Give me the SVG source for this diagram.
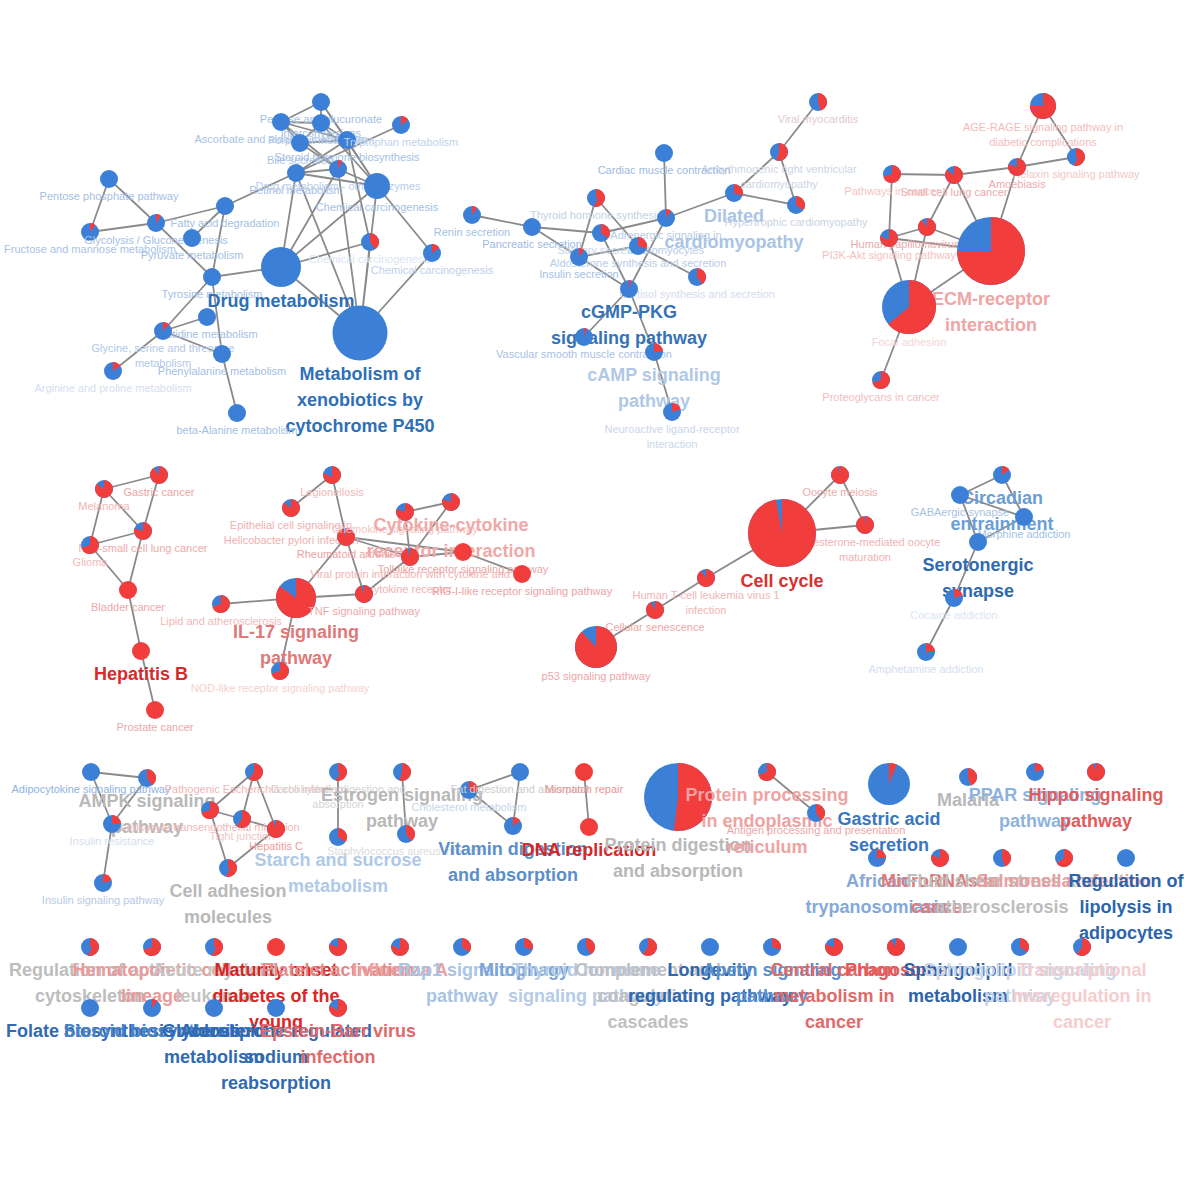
<svg xmlns="http://www.w3.org/2000/svg" width="1184" height="1184" viewBox="0 0 1184 1184">
<style>
.e{stroke:#8a8a8a;stroke-width:1.8;fill:none}
.b{fill:#3b80d6}
.rf{fill:#f23d3d}
.r{fill:none;stroke:#f23d3d}
.s{font-family:"Liberation Sans",Arial,sans-serif;font-size:11px;text-anchor:middle}
.L{font-family:"Liberation Sans",Arial,sans-serif;font-size:18px;font-weight:bold;text-anchor:middle}
</style>
<rect width="1184" height="1184" fill="#ffffff"/>
<g id="edges" class="e">
<path d="M321 102L281 122M321 102L321 123M321 102L347 140M321 102L377 186M281 122L321 123M281 122L347 140M281 122L300 143M281 122L338 169M321 123L347 140M321 123L300 143M321 123L377 186M300 143L347 140M300 143L338 169M347 140L296 173M347 140L377 186M296 173L338 169M296 173L377 186M338 169L377 186M401 125L296 173M296 173L225 206M296 173L281 267M296 173L360 333M338 169L281 267M338 169L360 333M377 186L281 267M377 186L360 333M347 140L370 242M370 242L360 333M370 242L281 267M281 267L360 333M281 267L212 277M432 253L377 186M432 253L360 333M109 179L90 232M109 179L156 223M90 232L156 223M156 223L225 206M225 206L192 238M225 206L212 277M156 223L212 277M212 277L163 331M212 277L222 354M163 331L207 317M163 331L222 354M163 331L113 371M222 354L237 413"/>
<path d="M818 102L779 152M779 152L734 193M779 152L796 205M734 193L796 205M734 193L666 218M664 153L666 218M472 215L532 227M532 227L601 233M532 227L579 257M596 198L579 257M596 198L638 246M601 233L666 218M579 257L638 246M579 257L629 289M601 233L629 289M666 218L629 289M638 246L697 277M629 289L584 337M629 289L654 352M654 352L672 412"/>
<path d="M1043 106L1017 167M1043 106L1076 157M1017 167L1076 157M954 175L1017 167M892 174L954 175M892 174L889 238M954 175L927 227M954 175L991 251M1017 167L991 251M889 238L927 227M927 227L991 251M889 238L991 251M889 238L909 307M927 227L909 307M909 307L991 251M909 307L881 380"/>
<path d="M104 489L159 475M104 489L143 531M104 489L90 545M90 545L143 531M159 475L143 531M143 531L128 590M90 545L128 590M128 590L141 651M141 651L155 710"/>
<path d="M332 475L291 508M332 475L346 537M346 537L410 557M346 537L463 552M405 512L451 502M405 512L410 557M451 502L410 557M410 557L463 552M463 552L522 574M364 594L410 557M346 537L296 598M346 537L364 594M296 598L221 604M296 598L364 594M296 598L280 671"/>
<path d="M840 475L782 533M840 475L865 525M782 533L865 525M782 533L706 578M706 578L655 610M655 610L596 647"/>
<path d="M960 495L1002 475M1002 475L1024 517M960 495L1024 517M1024 517L978 542M960 495L978 542M978 542L954 598M954 598L926 652"/>
<path d="M91 772L147 778M91 772L112 824M147 778L112 824M112 824L103 883M254 772L210 810M254 772L242 819M254 772L276 829M210 810L242 819M242 819L276 829M210 810L228 868M228 868L276 829M338 772L338 837M402 772L406 834M469 790L520 772M469 790L513 826M520 772L513 826M584 772L589 827M767 772L816 813"/>
</g>
<g id="nodes">
<!-- top-left cluster -->
<g id="n-pentose-glucuronate" transform="translate(321 102)"><text class="s" y="21" fill="#a3c0e5">Pentose and glucuronate<tspan x="0" dy="14">interconversions</tspan></text><circle class="b" r="9"/></g>
<g id="n-ascorbate" transform="translate(281 122)"><text class="s" y="21" fill="#a8c3e6">Ascorbate and aldarate metabolism</text><circle class="b" r="9"/></g>
<g id="n-porphyrin" transform="translate(321 123)"><text class="s" y="21" fill="#b0c8e8">Porphyrin metabolism</text><circle class="b" r="9"/></g>
<g id="n-bile" transform="translate(300 143)"><text class="s" y="21" fill="#a8c3e6">Bile secretion</text><circle class="b" r="9"/></g>
<g id="n-steroid-hormone" transform="translate(347 140)"><text class="s" y="21" fill="#a3c0e5">Steroid hormone biosynthesis</text><circle class="b" r="9"/></g>
<g id="n-retinol" transform="translate(296 173)"><text class="s" y="21" fill="#a3c0e5">Retinol metabolism</text><circle class="b" r="9"/></g>
<g id="n-drug-other" transform="translate(338 169)"><text class="s" y="21" fill="#b8cdea">Drug metabolism - other enzymes</text><circle class="b" r="9"/><circle class="r" r="4.5" stroke-width="9" pathLength="100" stroke-dasharray="8 100" transform="rotate(-90)"/></g>
<g id="n-chem-carc-1" transform="translate(377 186)"><text class="s" y="25" fill="#a3c0e5">Chemical carcinogenesis</text><circle class="b" r="13"/></g>
<g id="n-tryptophan" transform="translate(401 125)"><text class="s" y="21" fill="#c0d3ec">Tryptophan metabolism</text><circle class="b" r="9"/><circle class="r" r="4.5" stroke-width="9" pathLength="100" stroke-dasharray="15 100" transform="rotate(-90)"/></g>
<g id="n-chem-carc-2" transform="translate(370 242)"><text class="s" y="21" fill="#dbe5f2">Chemical carcinogenesis</text><circle class="b" r="9"/><circle class="r" r="4.5" stroke-width="9" pathLength="100" stroke-dasharray="40 100" transform="rotate(-90)"/></g>
<g id="n-chem-carc-3" transform="translate(432 253)"><text class="s" y="21" fill="#bcd0ea">Chemical carcinogenesis</text><circle class="b" r="9"/><circle class="r" r="4.5" stroke-width="9" pathLength="100" stroke-dasharray="15 100" transform="rotate(-90)"/></g>
<g id="n-pentose-phosphate" transform="translate(109 179)"><text class="s" y="21" fill="#a3c0e5">Pentose phosphate pathway</text><circle class="b" r="9"/></g>
<g id="n-fructose" transform="translate(90 232)"><text class="s" y="21" fill="#a8c3e6">Fructose and mannose metabolism</text><circle class="b" r="9"/><circle class="r" r="4.5" stroke-width="9" pathLength="100" stroke-dasharray="10 100" transform="rotate(-90)"/></g>
<g id="n-glycolysis" transform="translate(156 223)"><text class="s" y="21" fill="#a3c0e5">Glycolysis / Gluconeogenesis</text><circle class="b" r="9"/><circle class="r" r="4.5" stroke-width="9" pathLength="100" stroke-dasharray="10 100" transform="rotate(-90)"/></g>
<g id="n-fatty-acid" transform="translate(225 206)"><text class="s" y="21" fill="#a3c0e5">Fatty acid degradation</text><circle class="b" r="9"/></g>
<g id="n-pyruvate" transform="translate(192 238)"><text class="s" y="21" fill="#a3c0e5">Pyruvate metabolism</text><circle class="b" r="9"/></g>
<g id="n-tyrosine" transform="translate(212 277)"><text class="s" y="21" fill="#a3c0e5">Tyrosine metabolism</text><circle class="b" r="9"/></g>
<g id="n-drug-metabolism" transform="translate(281 267)"><text class="L" y="39.5" fill="#2f6fb8">Drug metabolism</text><circle class="b" r="20"/></g>
<g id="n-xenobiotics" transform="translate(360 333)"><text class="L" y="47" fill="#2f6fb8">Metabolism of<tspan x="0" dy="26">xenobiotics by</tspan><tspan x="0" dy="26">cytochrome P450</tspan></text><circle class="b" r="27.5"/></g>
<g id="n-histidine" transform="translate(207 317)"><text class="s" y="21" fill="#a3c0e5">Histidine metabolism</text><circle class="b" r="9"/></g>
<g id="n-glycine" transform="translate(163 331)"><text class="s" y="21" fill="#b0c8e8">Glycine, serine and threonine<tspan x="0" dy="15">metabolism</tspan></text><circle class="b" r="9"/><circle class="r" r="4.5" stroke-width="9" pathLength="100" stroke-dasharray="12 100" transform="rotate(-90)"/></g>
<g id="n-phenylalanine" transform="translate(222 354)"><text class="s" y="21" fill="#a3c0e5">Phenylalanine metabolism</text><circle class="b" r="9"/></g>
<g id="n-arginine" transform="translate(113 371)"><text class="s" y="21" fill="#d3e0f1">Arginine and proline metabolism</text><circle class="b" r="9"/><circle class="r" r="4.5" stroke-width="9" pathLength="100" stroke-dasharray="15 100" transform="rotate(-90)"/></g>
<g id="n-beta-alanine" transform="translate(237 413)"><text class="s" y="21" fill="#a3c0e5">beta-Alanine metabolism</text><circle class="b" r="9"/></g>
<!-- top-middle cluster -->
<g id="n-viral-myocarditis" transform="translate(818 102)"><text class="s" y="21" fill="#e3c9ce">Viral myocarditis</text><circle class="b" r="9"/><circle class="r" r="4.5" stroke-width="9" pathLength="100" stroke-dasharray="45 100" transform="rotate(-90)"/></g>
<g id="n-arrhythmogenic" transform="translate(779 152)"><text class="s" y="21" fill="#cdd6e3">Arrhythmogenic right ventricular<tspan x="0" dy="15">cardiomyopathy</tspan></text><circle class="b" r="9"/><circle class="r" r="4.5" stroke-width="9" pathLength="100" stroke-dasharray="55 100" transform="rotate(-90)"/></g>
<g id="n-dilated" transform="translate(734 193)"><text class="L" y="28.5" fill="#a9c4e4">Dilated<tspan x="0" dy="26">cardiomyopathy</tspan></text><circle class="b" r="9"/><circle class="r" r="4.5" stroke-width="9" pathLength="100" stroke-dasharray="30 100" transform="rotate(-90)"/></g>
<g id="n-hypertrophic" transform="translate(796 205)"><text class="s" y="21" fill="#c9d4e4">Hypertrophic cardiomyopathy</text><circle class="b" r="9"/><circle class="r" r="4.5" stroke-width="9" pathLength="100" stroke-dasharray="35 100" transform="rotate(-90)"/></g>
<g id="n-cardiac-muscle" transform="translate(664 153)"><text class="s" y="21" fill="#9dbbe0">Cardiac muscle contraction</text><circle class="b" r="9"/></g>
<g id="n-thyroid-synthesis" transform="translate(596 198)"><text class="s" y="21" fill="#c2d2e8">Thyroid hormone synthesis</text><circle class="b" r="9"/><circle class="r" r="4.5" stroke-width="9" pathLength="100" stroke-dasharray="50 100" transform="rotate(-90)"/></g>
<g id="n-renin" transform="translate(472 215)"><text class="s" y="21" fill="#a5c1e4">Renin secretion</text><circle class="b" r="9"/><circle class="r" r="4.5" stroke-width="9" pathLength="100" stroke-dasharray="10 100" transform="rotate(-90)"/></g>
<g id="n-pancreatic" transform="translate(532 227)"><text class="s" y="21" fill="#9dbbe0">Pancreatic secretion</text><circle class="b" r="9"/></g>
<g id="n-adrenergic" transform="translate(666 218)"><text class="s" y="21" fill="#b5cbe8">Adrenergic signaling in<tspan x="0" dy="15">cardiomyocytes</tspan></text><circle class="b" r="9"/><circle class="r" r="4.5" stroke-width="9" pathLength="100" stroke-dasharray="10 100" transform="rotate(-90)"/></g>
<g id="n-salivary" transform="translate(601 233)"><text class="s" y="21" fill="#c5d5ea">Salivary secretion</text><circle class="b" r="9"/><circle class="r" r="4.5" stroke-width="9" pathLength="100" stroke-dasharray="35 100" transform="rotate(-90)"/></g>
<g id="n-aldosterone-synth" transform="translate(638 246)"><text class="s" y="21" fill="#b8cce8">Aldosterone synthesis and secretion</text><circle class="b" r="9"/><circle class="r" r="4.5" stroke-width="9" pathLength="100" stroke-dasharray="30 100" transform="rotate(-90)"/></g>
<g id="n-insulin-secretion" transform="translate(579 257)"><text class="s" y="21" fill="#a5c0e4">Insulin secretion</text><circle class="b" r="9"/><circle class="r" r="4.5" stroke-width="9" pathLength="100" stroke-dasharray="10 100" transform="rotate(-90)"/></g>
<g id="n-cortisol" transform="translate(697 277)"><text class="s" y="21" fill="#d4dced">Cortisol synthesis and secretion</text><circle class="b" r="9"/><circle class="r" r="4.5" stroke-width="9" pathLength="100" stroke-dasharray="40 100" transform="rotate(-90)"/></g>
<g id="n-cgmp" transform="translate(629 289)"><text class="L" y="28.5" fill="#3572ba">cGMP-PKG<tspan x="0" dy="26">signaling pathway</tspan></text><circle class="b" r="9"/><circle class="r" r="4.5" stroke-width="9" pathLength="100" stroke-dasharray="5 100" transform="rotate(-90)"/></g>
<g id="n-vascular" transform="translate(584 337)"><text class="s" y="21" fill="#a9c2e4">Vascular smooth muscle contraction</text><circle class="b" r="9"/><circle class="r" r="4.5" stroke-width="9" pathLength="100" stroke-dasharray="5 100" transform="rotate(-90)"/></g>
<g id="n-camp" transform="translate(654 352)"><text class="L" y="28.5" fill="#b0c8e6">cAMP signaling<tspan x="0" dy="26">pathway</tspan></text><circle class="b" r="9"/><circle class="r" r="4.5" stroke-width="9" pathLength="100" stroke-dasharray="25 100" transform="rotate(-90)"/></g>
<g id="n-neuroactive" transform="translate(672 412)"><text class="s" y="21" fill="#c9d7ec">Neuroactive ligand-receptor<tspan x="0" dy="15">interaction</tspan></text><circle class="b" r="9"/><circle class="r" r="4.5" stroke-width="9" pathLength="100" stroke-dasharray="20 100" transform="rotate(-90)"/></g>
<!-- top-right cluster -->
<g id="n-age-rage" transform="translate(1043 106)"><text class="s" y="25" fill="#f3bcbc">AGE-RAGE signaling pathway in<tspan x="0" dy="15">diabetic complications</tspan></text><circle class="b" r="13"/><circle class="r" r="6.5" stroke-width="13" pathLength="100" stroke-dasharray="75 100" transform="rotate(-90)"/></g>
<g id="n-relaxin" transform="translate(1076 157)"><text class="s" y="21" fill="#f0c8c8">Relaxin signaling pathway</text><circle class="b" r="9"/><circle class="r" r="4.5" stroke-width="9" pathLength="100" stroke-dasharray="50 100" transform="rotate(-90)"/></g>
<g id="n-amoebiasis" transform="translate(1017 167)"><text class="s" y="21" fill="#eeaaaa">Amoebiasis</text><circle class="b" r="9"/><circle class="r" r="4.5" stroke-width="9" pathLength="100" stroke-dasharray="80 100" transform="rotate(-90)"/></g>
<g id="n-small-cell" transform="translate(954 175)"><text class="s" y="21" fill="#eea7a7">Small cell lung cancer</text><circle class="b" r="9"/><circle class="r" r="4.5" stroke-width="9" pathLength="100" stroke-dasharray="85 100" transform="rotate(-90)"/></g>
<g id="n-pathways-cancer" transform="translate(892 174)"><text class="s" y="21" fill="#f3c3c3">Pathways in cancer</text><circle class="b" r="9"/><circle class="r" r="4.5" stroke-width="9" pathLength="100" stroke-dasharray="70 100" transform="rotate(-90)"/></g>
<g id="n-hpv" transform="translate(927 227)"><text class="s" y="21" fill="#ebabab">Human papillomavirus infection</text><circle class="b" r="9"/><circle class="r" r="4.5" stroke-width="9" pathLength="100" stroke-dasharray="90 100" transform="rotate(-90)"/></g>
<g id="n-pi3k" transform="translate(889 238)"><text class="s" y="21" fill="#f2c2c2">PI3K-Akt signaling pathway</text><circle class="b" r="9"/><circle class="r" r="4.5" stroke-width="9" pathLength="100" stroke-dasharray="75 100" transform="rotate(-90)"/></g>
<g id="n-ecm" transform="translate(991 251)"><text class="L" y="53.5" fill="#eea5a5">ECM-receptor<tspan x="0" dy="26">interaction</tspan></text><circle class="b" r="34"/><circle class="r" r="17" stroke-width="34" pathLength="100" stroke-dasharray="75 100" transform="rotate(-90)"/></g>
<g id="n-focal" transform="translate(909 307)"><text class="s" y="39" fill="#f5d5d5">Focal adhesion</text><circle class="b" r="27"/><circle class="r" r="13.5" stroke-width="27" pathLength="100" stroke-dasharray="64 100" transform="rotate(-90)"/></g>
<g id="n-proteoglycans" transform="translate(881 380)"><text class="s" y="21" fill="#f0bebe">Proteoglycans in cancer</text><circle class="b" r="9"/><circle class="r" r="4.5" stroke-width="9" pathLength="100" stroke-dasharray="70 100" transform="rotate(-90)"/></g>
<!-- hepatitis B cluster -->
<g id="n-melanoma" transform="translate(104 489)"><text class="s" y="21" fill="#f0b5b5">Melanoma</text><circle class="b" r="9"/><circle class="r" r="4.5" stroke-width="9" pathLength="100" stroke-dasharray="85 100" transform="rotate(-90)"/></g>
<g id="n-gastric-cancer" transform="translate(159 475)"><text class="s" y="21" fill="#eea5a5">Gastric cancer</text><circle class="b" r="9"/><circle class="r" r="4.5" stroke-width="9" pathLength="100" stroke-dasharray="90 100" transform="rotate(-90)"/></g>
<g id="n-nsclc" transform="translate(143 531)"><text class="s" y="21" fill="#eea8a8">Non-small cell lung cancer</text><circle class="b" r="9"/><circle class="r" r="4.5" stroke-width="9" pathLength="100" stroke-dasharray="80 100" transform="rotate(-90)"/></g>
<g id="n-glioma" transform="translate(90 545)"><text class="s" y="21" fill="#f0b9b9">Glioma</text><circle class="b" r="9"/><circle class="r" r="4.5" stroke-width="9" pathLength="100" stroke-dasharray="70 100" transform="rotate(-90)"/></g>
<g id="n-bladder" transform="translate(128 590)"><text class="s" y="21" fill="#eea7a7">Bladder cancer</text><circle class="rf" r="9"/></g>
<g id="n-hepatitis-b" transform="translate(141 651)"><text class="L" y="28.5" fill="#d42b2b">Hepatitis B</text><circle class="rf" r="9"/></g>
<g id="n-prostate" transform="translate(155 710)"><text class="s" y="21" fill="#eea7a7">Prostate cancer</text><circle class="rf" r="9"/></g>
<!-- IL-17 cluster -->
<g id="n-legionellosis" transform="translate(332 475)"><text class="s" y="21" fill="#f0b7b7">Legionellosis</text><circle class="b" r="9"/><circle class="r" r="4.5" stroke-width="9" pathLength="100" stroke-dasharray="75 100" transform="rotate(-90)"/></g>
<g id="n-epithelial" transform="translate(291 508)"><text class="s" y="21" fill="#f0b0b0">Epithelial cell signaling in<tspan x="0" dy="15">Helicobacter pylori infection</tspan></text><circle class="b" r="9"/><circle class="r" r="4.5" stroke-width="9" pathLength="100" stroke-dasharray="85 100" transform="rotate(-90)"/></g>
<g id="n-rheumatoid" transform="translate(346 537)"><text class="s" y="21" fill="#eaa3a3">Rheumatoid arthritis</text><circle class="b" r="9"/><circle class="r" r="4.5" stroke-width="9" pathLength="100" stroke-dasharray="95 100" transform="rotate(-90)"/></g>
<g id="n-chemokine" transform="translate(405 512)"><text class="s" y="21" fill="#f3c3c3">Chemokine signaling pathway</text><circle class="b" r="9"/><circle class="r" r="4.5" stroke-width="9" pathLength="100" stroke-dasharray="80 100" transform="rotate(-90)"/></g>
<g id="n-cytokine" transform="translate(451 502)"><text class="L" y="28.5" fill="#f0a8a8">Cytokine-cytokine<tspan x="0" dy="26">receptor interaction</tspan></text><circle class="b" r="9"/><circle class="r" r="4.5" stroke-width="9" pathLength="100" stroke-dasharray="80 100" transform="rotate(-90)"/></g>
<g id="n-viral-protein" transform="translate(410 557)"><text class="s" y="21" fill="#f0b3b3">Viral protein interaction with cytokine and<tspan x="0" dy="15">cytokine receptor</tspan></text><circle class="b" r="9"/><circle class="r" r="4.5" stroke-width="9" pathLength="100" stroke-dasharray="95 100" transform="rotate(-90)"/></g>
<g id="n-toll" transform="translate(463 552)"><text class="s" y="21" fill="#eca6a6">Toll-like receptor signaling pathway</text><circle class="rf" r="9"/></g>
<g id="n-rig" transform="translate(522 574)"><text class="s" y="21" fill="#eca3a3">RIG-I-like receptor signaling pathway</text><circle class="rf" r="9"/></g>
<g id="n-il17" transform="translate(296 598)"><text class="L" y="39.5" fill="#e07878">IL-17 signaling<tspan x="0" dy="26">pathway</tspan></text><circle class="b" r="20"/><circle class="r" r="10" stroke-width="20" pathLength="100" stroke-dasharray="85 100" transform="rotate(-90)"/></g>
<g id="n-lipid" transform="translate(221 604)"><text class="s" y="21" fill="#f0b8b8">Lipid and atherosclerosis</text><circle class="b" r="9"/><circle class="r" r="4.5" stroke-width="9" pathLength="100" stroke-dasharray="70 100" transform="rotate(-90)"/></g>
<g id="n-tnf" transform="translate(364 594)"><text class="s" y="21" fill="#eea9a9">TNF signaling pathway</text><circle class="b" r="9"/><circle class="r" r="4.5" stroke-width="9" pathLength="100" stroke-dasharray="95 100" transform="rotate(-90)"/></g>
<g id="n-nod" transform="translate(280 671)"><text class="s" y="21" fill="#f5cfcf">NOD-like receptor signaling pathway</text><circle class="b" r="9"/><circle class="r" r="4.5" stroke-width="9" pathLength="100" stroke-dasharray="70 100" transform="rotate(-90)"/></g>
<!-- cell cycle cluster -->
<g id="n-oocyte" transform="translate(840 475)"><text class="s" y="21" fill="#eeacac">Oocyte meiosis</text><circle class="b" r="9"/><circle class="r" r="4.5" stroke-width="9" pathLength="100" stroke-dasharray="97 100" transform="rotate(-90)"/></g>
<g id="n-progesterone" transform="translate(865 525)"><text class="s" y="21" fill="#f0b3b3">Progesterone-mediated oocyte<tspan x="0" dy="15">maturation</tspan></text><circle class="b" r="9"/><circle class="r" r="4.5" stroke-width="9" pathLength="100" stroke-dasharray="97 100" transform="rotate(-90)"/></g>
<g id="n-cell-cycle" transform="translate(782 533)"><text class="L" y="53.5" fill="#d83030">Cell cycle</text><circle class="b" r="34"/><circle class="r" r="17" stroke-width="34" pathLength="100" stroke-dasharray="97 100" transform="rotate(-90)"/></g>
<g id="n-htlv" transform="translate(706 578)"><text class="s" y="21" fill="#f0b5b5">Human T-cell leukemia virus 1<tspan x="0" dy="15">infection</tspan></text><circle class="b" r="9"/><circle class="r" r="4.5" stroke-width="9" pathLength="100" stroke-dasharray="90 100" transform="rotate(-90)"/></g>
<g id="n-senescence" transform="translate(655 610)"><text class="s" y="21" fill="#eea7a7">Cellular senescence</text><circle class="b" r="9"/><circle class="r" r="4.5" stroke-width="9" pathLength="100" stroke-dasharray="92 100" transform="rotate(-90)"/></g>
<g id="n-p53" transform="translate(596 647)"><text class="s" y="33" fill="#eea6a6">p53 signaling pathway</text><circle class="b" r="21"/><circle class="r" r="10.5" stroke-width="21" pathLength="100" stroke-dasharray="88 100" transform="rotate(-90)"/></g>
<!-- serotonergic cluster -->
<g id="n-circadian" transform="translate(1002 475)"><text class="L" y="28.5" fill="#6a9ed6">Circadian<tspan x="0" dy="26">entrainment</tspan></text><circle class="b" r="9"/><circle class="r" r="4.5" stroke-width="9" pathLength="100" stroke-dasharray="15 100" transform="rotate(-90)"/></g>
<g id="n-gabaergic" transform="translate(960 495)"><text class="s" y="21" fill="#a8c2e3">GABAergic synapse</text><circle class="b" r="9"/></g>
<g id="n-morphine" transform="translate(1024 517)"><text class="s" y="21" fill="#a3bfe3">Morphine addiction</text><circle class="b" r="9"/></g>
<g id="n-serotonergic" transform="translate(978 542)"><text class="L" y="28.5" fill="#2f69b0">Serotonergic<tspan x="0" dy="26">synapse</tspan></text><circle class="b" r="9"/></g>
<g id="n-cocaine" transform="translate(954 598)"><text class="s" y="21" fill="#dce5f1">Cocaine addiction</text><circle class="b" r="9"/><circle class="r" r="4.5" stroke-width="9" pathLength="100" stroke-dasharray="20 100" transform="rotate(-90)"/></g>
<g id="n-amphetamine" transform="translate(926 652)"><text class="s" y="21" fill="#d3def0">Amphetamine addiction</text><circle class="b" r="9"/><circle class="r" r="4.5" stroke-width="9" pathLength="100" stroke-dasharray="25 100" transform="rotate(-90)"/></g>
<!-- lower row -->
<g id="n-adipocytokine" transform="translate(91 772)"><text class="s" y="21" fill="#8fb2df">Adipocytokine signaling pathway</text><circle class="b" r="9"/></g>
<g id="n-ampk" transform="translate(147 778)"><text class="L" y="28.5" fill="#b8b8b8">AMPK signaling<tspan x="0" dy="26">pathway</tspan></text><circle class="b" r="9"/><circle class="r" r="4.5" stroke-width="9" pathLength="100" stroke-dasharray="40 100" transform="rotate(-90)"/></g>
<g id="n-insulin-resistance" transform="translate(112 824)"><text class="s" y="21" fill="#d6e0ee">Insulin resistance</text><circle class="b" r="9"/><circle class="r" r="4.5" stroke-width="9" pathLength="100" stroke-dasharray="25 100" transform="rotate(-90)"/></g>
<g id="n-insulin-signaling" transform="translate(103 883)"><text class="s" y="21" fill="#b5cae6">Insulin signaling pathway</text><circle class="b" r="9"/><circle class="r" r="4.5" stroke-width="9" pathLength="100" stroke-dasharray="20 100" transform="rotate(-90)"/></g>
<g id="n-pathogenic-ecoli" transform="translate(254 772)"><text class="s" y="21" fill="#f0b6b6">Pathogenic Escherichia coli infection</text><circle class="b" r="9"/><circle class="r" r="4.5" stroke-width="9" pathLength="100" stroke-dasharray="60 100" transform="rotate(-90)"/></g>
<g id="n-leukocyte" transform="translate(210 810)"><text class="s" y="21" fill="#f0b7b7">Leukocyte transendothelial migration</text><circle class="b" r="9"/><circle class="r" r="4.5" stroke-width="9" pathLength="100" stroke-dasharray="70 100" transform="rotate(-90)"/></g>
<g id="n-tight-junction" transform="translate(242 819)"><text class="s" y="21" fill="#f0c5c5">Tight junction</text><circle class="b" r="9"/><circle class="r" r="4.5" stroke-width="9" pathLength="100" stroke-dasharray="60 100" transform="rotate(-90)"/></g>
<g id="n-hepatitis-c" transform="translate(276 829)"><text class="s" y="21" fill="#ec9d9d">Hepatitis C</text><circle class="b" r="9"/><circle class="r" r="4.5" stroke-width="9" pathLength="100" stroke-dasharray="95 100" transform="rotate(-90)"/></g>
<g id="n-cell-adhesion" transform="translate(228 868)"><text class="L" y="28.5" fill="#b8b8b8">Cell adhesion<tspan x="0" dy="26">molecules</tspan></text><circle class="b" r="9"/><circle class="r" r="4.5" stroke-width="9" pathLength="100" stroke-dasharray="50 100" transform="rotate(-90)"/></g>
<g id="n-carbohydrate" transform="translate(338 772)"><text class="s" y="21" fill="#d5d5d5">Carbohydrate digestion and<tspan x="0" dy="15">absorption</tspan></text><circle class="b" r="9"/><circle class="r" r="4.5" stroke-width="9" pathLength="100" stroke-dasharray="50 100" transform="rotate(-90)"/></g>
<g id="n-estrogen" transform="translate(402 772)"><text class="L" y="28.5" fill="#b8b8b8">Estrogen signaling<tspan x="0" dy="26">pathway</tspan></text><circle class="b" r="9"/><circle class="r" r="4.5" stroke-width="9" pathLength="100" stroke-dasharray="55 100" transform="rotate(-90)"/></g>
<g id="n-starch" transform="translate(338 837)"><text class="L" y="28.5" fill="#b0c9e6">Starch and sucrose<tspan x="0" dy="26">metabolism</tspan></text><circle class="b" r="9"/><circle class="r" r="4.5" stroke-width="9" pathLength="100" stroke-dasharray="35 100" transform="rotate(-90)"/></g>
<g id="n-staphylococcus" transform="translate(406 834)"><text class="s" y="21" fill="#dcdcdc">Staphylococcus aureus infection</text><circle class="b" r="9"/><circle class="r" r="4.5" stroke-width="9" pathLength="100" stroke-dasharray="40 100" transform="rotate(-90)"/></g>
<g id="n-cholesterol" transform="translate(469 790)"><text class="s" y="21" fill="#c7d6ec">Cholesterol metabolism</text><circle class="b" r="9"/><circle class="r" r="4.5" stroke-width="9" pathLength="100" stroke-dasharray="30 100" transform="rotate(-90)"/></g>
<g id="n-fat-digestion" transform="translate(520 772)"><text class="s" y="21" fill="#cccccc">Fat digestion and absorption</text><circle class="b" r="9"/></g>
<g id="n-vitamin" transform="translate(513 826)"><text class="L" y="28.5" fill="#5b8fca">Vitamin digestion<tspan x="0" dy="26">and absorption</tspan></text><circle class="b" r="9"/><circle class="r" r="4.5" stroke-width="9" pathLength="100" stroke-dasharray="15 100" transform="rotate(-90)"/></g>
<g id="n-mismatch" transform="translate(584 772)"><text class="s" y="21" fill="#e89696">Mismatch repair</text><circle class="rf" r="9"/></g>
<g id="n-dna-replication" transform="translate(589 827)"><text class="L" y="28.5" fill="#d62828">DNA replication</text><circle class="rf" r="9"/></g>
<g id="n-protein-digestion" transform="translate(678 797)"><text class="L" y="53.5" fill="#b8b8b8">Protein digestion<tspan x="0" dy="26">and absorption</tspan></text><circle class="b" r="34"/><circle class="r" r="17" stroke-width="34" pathLength="100" stroke-dasharray="52 100" transform="rotate(-90)"/></g>
<g id="n-protein-processing" transform="translate(767 772)"><text class="L" y="28.5" fill="#eea2a2">Protein processing<tspan x="0" dy="26">in endoplasmic</tspan><tspan x="0" dy="26">reticulum</tspan></text><circle class="b" r="9"/><circle class="r" r="4.5" stroke-width="9" pathLength="100" stroke-dasharray="70 100" transform="rotate(-90)"/></g>
<g id="n-antigen" transform="translate(816 813)"><text class="s" y="21" fill="#eda6a6">Antigen processing and presentation</text><circle class="b" r="9"/><circle class="r" r="4.5" stroke-width="9" pathLength="100" stroke-dasharray="40 100" transform="rotate(-90)"/></g>
<g id="n-gastric-acid" transform="translate(889 784)"><text class="L" y="40.5" fill="#3a75bf">Gastric acid<tspan x="0" dy="26">secretion</tspan></text><circle class="b" r="21"/><circle class="r" r="10.5" stroke-width="21" pathLength="100" stroke-dasharray="6 100" transform="rotate(-90)"/></g>
<g id="n-malaria" transform="translate(968 777)"><text class="L" y="28.5" fill="#b8b8b8">Malaria</text><circle class="b" r="9"/><circle class="r" r="4.5" stroke-width="9" pathLength="100" stroke-dasharray="45 100" transform="rotate(-90)"/></g>
<g id="n-ppar" transform="translate(1035 772)"><text class="L" y="28.5" fill="#8eb2de">PPAR signaling<tspan x="0" dy="26">pathway</tspan></text><circle class="b" r="9"/><circle class="r" r="4.5" stroke-width="9" pathLength="100" stroke-dasharray="20 100" transform="rotate(-90)"/></g>
<g id="n-hippo" transform="translate(1096 772)"><text class="L" y="28.5" fill="#e05c5c">Hippo signaling<tspan x="0" dy="26">pathway</tspan></text><circle class="b" r="9"/><circle class="r" r="4.5" stroke-width="9" pathLength="100" stroke-dasharray="95 100" transform="rotate(-90)"/></g>
<g id="n-african" transform="translate(877 858)"><text class="L" y="28.5" fill="#84a9d8">African<tspan x="0" dy="26">trypanosomiasis</tspan></text><circle class="b" r="9"/><circle class="r" r="4.5" stroke-width="9" pathLength="100" stroke-dasharray="25 100" transform="rotate(-90)"/></g>
<g id="n-micrornas" transform="translate(940 858)"><text class="L" y="28.5" fill="#e37a7a">MicroRNAs in<tspan x="0" dy="26">cancer</tspan></text><circle class="b" r="9"/><circle class="r" r="4.5" stroke-width="9" pathLength="100" stroke-dasharray="80 100" transform="rotate(-90)"/></g>
<g id="n-fluid-shear" transform="translate(1002 858)"><text class="L" y="28.5" fill="#bdbdbd">Fluid shear stress and<tspan x="0" dy="26">atherosclerosis</tspan></text><circle class="b" r="9"/><circle class="r" r="4.5" stroke-width="9" pathLength="100" stroke-dasharray="45 100" transform="rotate(-90)"/></g>
<g id="n-salmonella" transform="translate(1064 858)"><text class="L" y="28.5" fill="#eaa0a0">Salmonella infection</text><circle class="b" r="9"/><circle class="r" r="4.5" stroke-width="9" pathLength="100" stroke-dasharray="65 100" transform="rotate(-90)"/></g>
<g id="n-lipolysis" transform="translate(1126 858)"><text class="L" y="28.5" fill="#2c64ad">Regulation of<tspan x="0" dy="26">lipolysis in</tspan><tspan x="0" dy="26">adipocytes</tspan></text><circle class="b" r="9"/></g>
<!-- singleton row 1 -->
<g id="n-actin" transform="translate(90 947)"><text class="L" y="28.5" fill="#bdbdbd">Regulation of actin<tspan x="0" dy="26">cytoskeleton</tspan></text><circle class="b" r="9"/><circle class="r" r="4.5" stroke-width="9" pathLength="100" stroke-dasharray="50 100" transform="rotate(-90)"/></g>
<g id="n-hematopoietic" transform="translate(152 947)"><text class="L" y="28.5" fill="#eb9a9a">Hematopoietic cell<tspan x="0" dy="26">lineage</tspan></text><circle class="b" r="9"/><circle class="r" r="4.5" stroke-width="9" pathLength="100" stroke-dasharray="70 100" transform="rotate(-90)"/></g>
<g id="n-aml" transform="translate(214 947)"><text class="L" y="28.5" fill="#c4c4c4">Acute myeloid<tspan x="0" dy="26">leukemia</tspan></text><circle class="b" r="9"/><circle class="r" r="4.5" stroke-width="9" pathLength="100" stroke-dasharray="50 100" transform="rotate(-90)"/></g>
<g id="n-mody" transform="translate(276 947)"><text class="L" y="28.5" fill="#d92626">Maturity onset<tspan x="0" dy="26">diabetes of the</tspan><tspan x="0" dy="26">young</tspan></text><circle class="rf" r="9"/></g>
<g id="n-platelet" transform="translate(338 947)"><text class="L" y="28.5" fill="#e48a8a">Platelet activation</text><circle class="b" r="9"/><circle class="r" r="4.5" stroke-width="9" pathLength="100" stroke-dasharray="80 100" transform="rotate(-90)"/></g>
<g id="n-influenza" transform="translate(400 947)"><text class="L" y="28.5" fill="#eaa0a0">Influenza A</text><circle class="b" r="9"/><circle class="r" r="4.5" stroke-width="9" pathLength="100" stroke-dasharray="75 100" transform="rotate(-90)"/></g>
<g id="n-rap1" transform="translate(462 947)"><text class="L" y="28.5" fill="#a9c3e3">Rap1 signaling<tspan x="0" dy="26">pathway</tspan></text><circle class="b" r="9"/><circle class="r" r="4.5" stroke-width="9" pathLength="100" stroke-dasharray="35 100" transform="rotate(-90)"/></g>
<g id="n-mitophagy" transform="translate(524 947)"><text class="L" y="28.5" fill="#7aa5d8">Mitophagy</text><circle class="b" r="9"/><circle class="r" r="4.5" stroke-width="9" pathLength="100" stroke-dasharray="30 100" transform="rotate(-90)"/></g>
<g id="n-thyroid-signaling" transform="translate(586 947)"><text class="L" y="28.5" fill="#b5cbe6">Thyroid hormone<tspan x="0" dy="26">signaling pathway</tspan></text><circle class="b" r="9"/><circle class="r" r="4.5" stroke-width="9" pathLength="100" stroke-dasharray="40 100" transform="rotate(-90)"/></g>
<g id="n-complement" transform="translate(648 947)"><text class="L" y="28.5" fill="#c0c0c0">Complement and<tspan x="0" dy="26">coagulation</tspan><tspan x="0" dy="26">cascades</tspan></text><circle class="b" r="9"/><circle class="r" r="4.5" stroke-width="9" pathLength="100" stroke-dasharray="60 100" transform="rotate(-90)"/></g>
<g id="n-longevity" transform="translate(710 947)"><text class="L" y="28.5" fill="#2f68b0">Longevity<tspan x="0" dy="26">regulating pathway</tspan></text><circle class="b" r="9"/></g>
<g id="n-apelin" transform="translate(772 947)"><text class="L" y="28.5" fill="#5a8fd0">Apelin signaling<tspan x="0" dy="26">pathway</tspan></text><circle class="b" r="9"/><circle class="r" r="4.5" stroke-width="9" pathLength="100" stroke-dasharray="30 100" transform="rotate(-90)"/></g>
<g id="n-central-carbon" transform="translate(834 947)"><text class="L" y="28.5" fill="#e06a6a">Central carbon<tspan x="0" dy="26">metabolism in</tspan><tspan x="0" dy="26">cancer</tspan></text><circle class="b" r="9"/><circle class="r" r="4.5" stroke-width="9" pathLength="100" stroke-dasharray="80 100" transform="rotate(-90)"/></g>
<g id="n-phagosome" transform="translate(896 947)"><text class="L" y="28.5" fill="#e45a5a">Phagosome</text><circle class="b" r="9"/><circle class="r" r="4.5" stroke-width="9" pathLength="100" stroke-dasharray="90 100" transform="rotate(-90)"/></g>
<g id="n-sphingolipid-metab" transform="translate(958 947)"><text class="L" y="28.5" fill="#2d63ab">Sphingolipid<tspan x="0" dy="26">metabolism</tspan></text><circle class="b" r="9"/></g>
<g id="n-sphingolipid-signal" transform="translate(1020 947)"><text class="L" y="28.5" fill="#c8d5e8">Sphingolipid signaling<tspan x="0" dy="26">pathway</tspan></text><circle class="b" r="9"/><circle class="r" r="4.5" stroke-width="9" pathLength="100" stroke-dasharray="35 100" transform="rotate(-90)"/></g>
<g id="n-transcriptional" transform="translate(1082 947)"><text class="L" y="28.5" fill="#f4cdcd">Transcriptional<tspan x="0" dy="26">misregulation in</tspan><tspan x="0" dy="26">cancer</tspan></text><circle class="b" r="9"/><circle class="r" r="4.5" stroke-width="9" pathLength="100" stroke-dasharray="60 100" transform="rotate(-90)"/></g>
<!-- singleton row 2 -->
<g id="n-folate" transform="translate(90 1008)"><text class="L" y="28.5" fill="#2f6ab3">Folate biosynthesis</text><circle class="b" r="9"/></g>
<g id="n-steroid-biosynthesis" transform="translate(152 1008)"><text class="L" y="28.5" fill="#4a84c8">Steroid biosynthesis</text><circle class="b" r="9"/><circle class="r" r="4.5" stroke-width="9" pathLength="100" stroke-dasharray="10 100" transform="rotate(-90)"/></g>
<g id="n-glycerolipid" transform="translate(214 1008)"><text class="L" y="28.5" fill="#2f6ab3">Glycerolipid<tspan x="0" dy="26">metabolism</tspan></text><circle class="b" r="9"/></g>
<g id="n-aldosterone-regulated" transform="translate(276 1008)"><text class="L" y="28.5" fill="#2f6ab3">Aldosterone-regulated<tspan x="0" dy="26">sodium</tspan><tspan x="0" dy="26">reabsorption</tspan></text><circle class="b" r="9"/></g>
<g id="n-ebv" transform="translate(338 1008)"><text class="L" y="28.5" fill="#e06a6a">Epstein-Barr virus<tspan x="0" dy="26">infection</tspan></text><circle class="b" r="9"/><circle class="r" r="4.5" stroke-width="9" pathLength="100" stroke-dasharray="75 100" transform="rotate(-90)"/></g>
</g>
</svg>
